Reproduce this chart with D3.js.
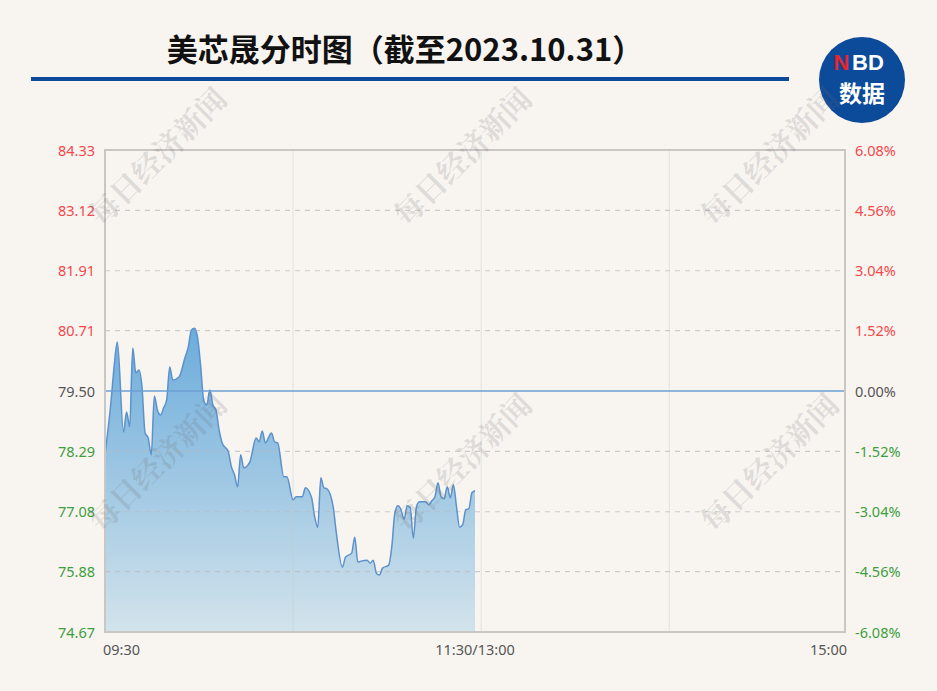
<!DOCTYPE html>
<html><head><meta charset="utf-8">
<script src="https://cdn.jsdelivr.net/npm/d3@7"></script>
<style>body{margin:0;background:#f8f5f1;} svg{display:block}</style>
</head><body><svg id="c" width="937" height="691"></svg>
<script>
const titleText = "美芯晟分时图（截至2023.10.31）";
const watermarkText = "每日经济新闻";
const prevClose = 79.50;
const priceTicks = [84.33, 83.12, 81.91, 80.71, 79.50, 78.29, 77.08, 75.88, 74.67];
const pctTicks = ["6.08%", "4.56%", "3.04%", "1.52%", "0.00%", "-1.52%", "-3.04%", "-4.56%", "-6.08%"];
const timeLabels = ["09:30", "11:30/13:00", "15:00"];
const timeLabelMinutes = [0, 120, 240];
const gridMinutes = [61, 122, 183];
// minutes after 09:30 (trading minutes), and price
const minutes = [
  0, 2, 3, 4, 6, 7, 8, 9, 10, 11,
  12, 13, 14, 15, 16, 17, 18, 19, 20, 21,
  22, 24, 26, 27, 28, 29, 30, 31, 32, 33,
  34, 35, 36, 37, 38, 40, 41, 42, 43, 44,
  45, 47, 49, 50, 51, 52, 54, 55, 56, 58,
  59, 61, 62, 64, 65, 67, 68, 69, 70, 71,
  72, 74, 75, 77, 78, 80, 81, 82, 83, 85,
  86, 87, 88, 89, 90, 92, 93, 94, 95, 96,
  97, 98, 99, 100, 101, 102, 104, 105, 106, 107,
  108, 109, 110, 111, 112, 113, 114, 115, 116, 117,
  118, 119, 120
];
const prices = [
  78.22, 79.32, 80.02, 80.48, 78.68, 79.08, 78.78, 80.36, 79.86, 79.92,
  79.58, 78.66, 78.56, 78.22, 79.40, 79.12, 79.02, 79.16, 79.32, 79.98,
  79.72, 79.78, 80.18, 80.38, 80.72, 80.76, 80.58, 80.02, 79.32, 79.22,
  79.52, 79.22, 79.12, 78.72, 78.46, 78.28, 77.98, 77.82, 77.58, 78.22,
  77.96, 78.08, 78.56, 78.48, 78.70, 78.46, 78.66, 78.48, 78.46, 77.78,
  77.78, 77.32, 77.38, 77.38, 77.56, 77.36, 76.98, 76.77, 77.76, 77.56,
  77.54, 77.18, 76.67, 75.97, 76.17, 76.25, 76.57, 76.07, 76.09, 76.11,
  76.05, 76.11, 75.85, 75.81, 75.95, 76.01, 76.37, 77.05, 77.20, 77.12,
  76.93, 77.20, 77.16, 76.55, 77.18, 77.28, 77.28, 77.22, 77.30, 77.38,
  77.66, 77.38, 77.34, 77.58, 77.36, 77.62, 77.18, 76.77, 76.82, 77.12,
  77.14, 77.46, 77.50
];
const data = minutes.map((m, i) => ({m, p: prices[i]}));

const svg = d3.select("#c");
const L = 105, R = 845, T = 150, B = 632;
const x = d3.scaleLinear().domain([0, 240]).range([L, R]);
const y = d3.scaleLinear().domain([priceTicks[8], priceTicks[0]]).range([B, T]);

svg.append("rect").attr("width", 937).attr("height", 691).attr("fill", "#f8f5f1");

// Title
svg.append("text").attr("x", 405).attr("y", 61).attr("text-anchor", "middle")
  .attr("font-family", "'Noto Sans CJK SC', sans-serif").attr("font-weight", "bold")
  .attr("font-size", 31).attr("fill", "#111").text(titleText);
svg.append("rect").attr("x", 31).attr("y", 77).attr("width", 758).attr("height", 4).attr("fill", "#0e4a9a");

// Logo
svg.append("circle").attr("cx", 862).attr("cy", 80).attr("r", 43).attr("fill", "#0c4a9a");
svg.append("text").attr("x", 849.5).attr("y", 70).attr("text-anchor", "end")
  .attr("font-family", "'Liberation Sans', Arial, sans-serif").attr("font-weight", "bold")
  .attr("font-size", 22).attr("fill", "#e8252c").text("N");
svg.append("text").attr("x", 852).attr("y", 70).attr("text-anchor", "start")
  .attr("font-family", "'Liberation Sans', Arial, sans-serif").attr("font-weight", "bold")
  .attr("font-size", 22).attr("fill", "#fff").text("BD");
svg.append("text").attr("x", 862).attr("y", 102).attr("text-anchor", "middle")
  .attr("font-family", "'Noto Sans CJK SC', sans-serif").attr("font-weight", "bold")
  .attr("font-size", 23).attr("fill", "#fff").text("数据");

// gradient
const defs = svg.append("defs");
const grad = defs.append("linearGradient").attr("id", "g").attr("gradientUnits", "userSpaceOnUse")
  .attr("x1", 0).attr("x2", 0).attr("y1", y(d3.max(prices))).attr("y2", B);
grad.append("stop").attr("offset", 0).attr("stop-color", "#6cacdc");
grad.append("stop").attr("offset", 1).attr("stop-color", "#d2e3eb");

// area + line
const area = d3.area().x(d => x(d.m)).y0(B).y1(d => y(d.p)).curve(d3.curveMonotoneX);
const line = d3.line().x(d => x(d.m)).y(d => y(d.p)).curve(d3.curveMonotoneX);
svg.append("path").datum(data).attr("d", area).attr("fill", "url(#g)");

// grid
svg.append("g").selectAll("line").data(gridMinutes).join("line")
  .attr("x1", d => x(d)).attr("x2", d => x(d)).attr("y1", T).attr("y2", B)
  .attr("stroke", "rgba(200,200,200,0.45)").attr("stroke-width", 1);
svg.append("g").selectAll("line").data(priceTicks.slice(1, 8).filter(v => v !== prevClose)).join("line")
  .attr("x1", L).attr("x2", R).attr("y1", d => y(d)).attr("y2", d => y(d))
  .attr("stroke", "rgba(185,185,185,0.7)").attr("stroke-width", 1.2).attr("stroke-dasharray", "5,5");

svg.append("path").datum(data).attr("d", line).attr("fill", "none")
  .attr("stroke", "#5b92cc").attr("stroke-width", 1.5);

// prev close line
svg.append("line").attr("x1", L).attr("x2", R).attr("y1", y(prevClose)).attr("y2", y(prevClose))
  .attr("stroke", "#6b9fd3").attr("stroke-width", 1.5);

// border
svg.append("rect").attr("x", L).attr("y", T).attr("width", R - L).attr("height", B - T)
  .attr("fill", "none").attr("stroke", "#c9c7c4").attr("stroke-width", 2);

// y labels
const col = v => v > prevClose ? "#f5484b" : (v < prevClose ? "#3d9e3d" : "#555");
const yl = d3.axisLeft(y).tickValues(priceTicks).tickFormat(d3.format(".2f")).tickSize(0).tickPadding(0);
const gl = svg.append("g").attr("transform", `translate(${95},0)`).call(yl);
gl.select(".domain").remove();
gl.selectAll("text").attr("font-family", "'Noto Sans', sans-serif").attr("font-size", 14.5)
  .attr("fill", d => col(d)).attr("dy", "0.35em");
const yr = d3.axisRight(y).tickValues(priceTicks).tickFormat((d, i) => pctTicks[i]).tickSize(0).tickPadding(0);
const gr = svg.append("g").attr("transform", `translate(${855},0)`).call(yr);
gr.select(".domain").remove();
gr.selectAll("text").attr("font-family", "'Noto Sans', sans-serif").attr("font-size", 14.5)
  .attr("fill", d => col(d)).attr("dy", "0.35em");

// x labels
const anchors = ["start", "middle", "end"];
const offs = [-2, 0, 2];
svg.append("g").selectAll("text").data(timeLabels).join("text")
  .attr("x", (d, i) => x(timeLabelMinutes[i]) + offs[i]).attr("y", 655)
  .attr("text-anchor", (d, i) => anchors[i])
  .attr("font-family", "'Noto Sans', sans-serif").attr("font-size", 14.5).attr("fill", "#555").text(d => d);

// watermarks
const wmX = [158, 463, 770], wmY = [157, 463];
wmY.forEach(cy => wmX.forEach(cx => {
  svg.append("text").attr("transform", `translate(${cx},${cy}) rotate(-45)`)
    .attr("text-anchor", "middle").attr("dy", "0.35em")
    .attr("font-family", "'Noto Serif CJK SC','Noto Sans CJK SC', serif").attr("font-weight", "bold")
    .attr("font-size", 30).attr("fill", "rgba(110,110,110,0.2)").text(watermarkText);
}));
</script></body></html>
